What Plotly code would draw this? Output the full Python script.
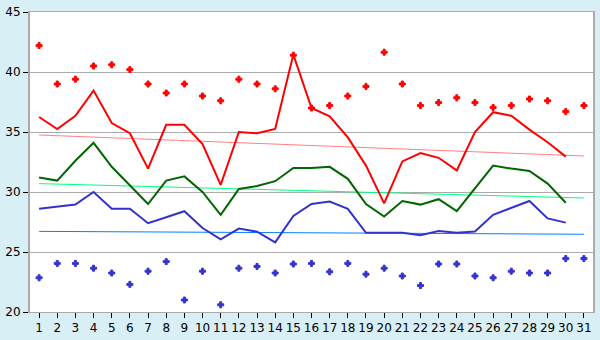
import plotly.graph_objects as go

days = list(range(1, 32))
max_pts = [42.2, 39.0, 39.4, 40.5, 40.6, 40.2, 39.0, 38.25, 39.0, 38.0,
           37.6, 39.4, 39.0, 38.6, 41.4, 37.0, 37.2, 38.0, 38.8, 41.65,
           39.0, 37.2, 37.45, 37.85, 37.45, 37.05, 37.2, 37.75, 37.6, 36.7, 37.2]
min_pts = [22.85, 24.05, 24.05, 23.65, 23.25, 22.3, 23.4, 24.2, 21.0, 23.4,
           20.6, 23.65, 23.8, 23.25, 24.0, 24.05, 23.35, 24.05, 23.15, 23.65,
           23.0, 22.2, 24.0, 24.0, 23.0, 22.85, 23.4, 23.25, 23.25, 24.45, 24.45]
line_days = list(range(1, 31))
red_line = [36.25, 35.25, 36.35, 38.45, 35.75, 34.9, 31.95, 35.6, 35.6, 34.0,
            30.6, 35.0, 34.9, 35.25, 41.45, 37.0, 36.3, 34.55, 32.2, 29.05,
            32.55, 33.25, 32.85, 31.8, 35.0, 36.65, 36.35, 35.2, 34.15, 32.95]
green_line = [31.2, 30.95, 32.6, 34.1, 32.1, 30.55, 29.0, 30.95, 31.3, 30.0,
              28.1, 30.25, 30.5, 30.9, 32.0, 32.0, 32.1, 31.1, 29.0, 27.95,
              29.25, 28.95, 29.4, 28.4, 30.3, 32.2, 31.95, 31.75, 30.7, 29.1]
blue_line = [28.6, 28.75, 28.95, 30.0, 28.6, 28.6, 27.4, 27.9, 28.4, 27.0,
             26.05, 26.95, 26.7, 25.8, 28.0, 29.0, 29.2, 28.6, 26.6, 26.6,
             26.6, 26.4, 26.75, 26.6, 26.7, 28.1, 28.7, 29.25, 27.8, 27.45]
trend_days = [1, 31]
red_trend = [34.75, 33.0]
green_trend = [30.7, 29.5]
blue_trend = [26.72, 26.48]
y_ticks = [20, 25, 30, 35, 40, 45]

fig = go.Figure()
fig.add_trace(go.Scatter(x=trend_days, y=red_trend, mode="lines",
                         line=dict(color="#ff8080", width=1)))
fig.add_trace(go.Scatter(x=trend_days, y=green_trend, mode="lines",
                         line=dict(color="#00ff80", width=1)))
fig.add_trace(go.Scatter(x=trend_days, y=blue_trend, mode="lines",
                         line=dict(color="#0080ff", width=1)))
fig.add_trace(go.Scatter(x=line_days, y=red_line, mode="lines",
                         line=dict(color="#ff0000", width=2)))
fig.add_trace(go.Scatter(x=line_days, y=green_line, mode="lines",
                         line=dict(color="#006600", width=2)))
fig.add_trace(go.Scatter(x=line_days, y=blue_line, mode="lines",
                         line=dict(color="#3333cc", width=2)))
fig.add_trace(go.Scatter(x=days, y=max_pts, mode="markers",
                         marker=dict(symbol="cross", size=5, color="#ff0000",
                                     line=dict(width=1, color="#ff0000"))))
fig.add_trace(go.Scatter(x=days, y=min_pts, mode="markers",
                         marker=dict(symbol="cross", size=5, color="#3333cc",
                                     line=dict(width=1, color="#3333cc"))))

fig.update_layout(
    width=600, height=340,
    margin=dict(l=20, r=5, t=5, b=20),
    paper_bgcolor="#d9eff6",
    plot_bgcolor="#ffffff",
    showlegend=False,
    font=dict(family="DejaVu Sans", size=12, color="#000000"),
)
fig.update_xaxes(range=[0.5, 31.5], tickmode="array", tickvals=days,
                 ticktext=[str(d) for d in days],
                 showgrid=False, zeroline=False,
                 ticks="outside", ticklen=5, tickcolor="#000000",
                 showline=True, linecolor="#aaaaaa", linewidth=1, mirror=True,
                 tickfont=dict(size=12))
fig.update_yaxes(range=[20, 45], tickmode="array", tickvals=y_ticks,
                 ticktext=[str(v) for v in y_ticks],
                 showgrid=True, gridcolor="#aaaaaa", gridwidth=1, zeroline=False,
                 ticks="outside", ticklen=5, tickcolor="#000000",
                 ticklabeloverflow="allow",
                 showline=True, linecolor="#aaaaaa", linewidth=2, mirror=True,
                 tickfont=dict(size=12))

fig.write_html("out.html")
